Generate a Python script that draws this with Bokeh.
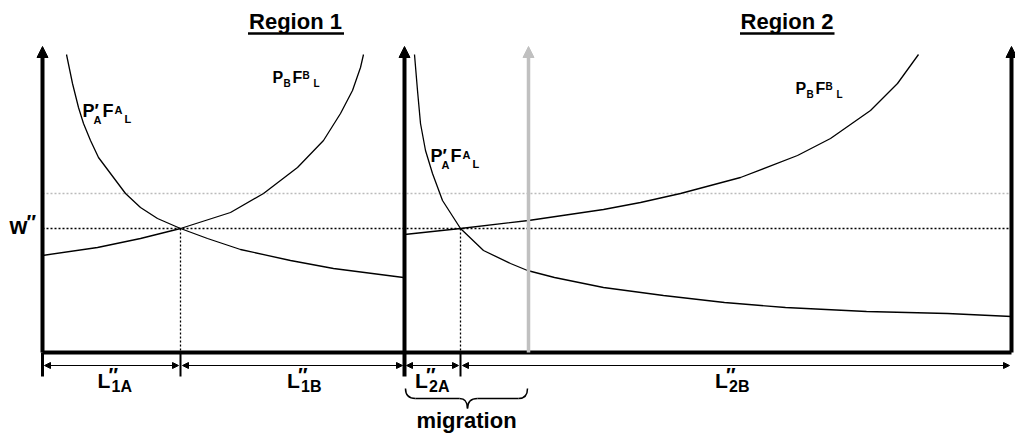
from bokeh.plotting import figure
from bokeh.models import Range1d, Arrow, NormalHead
from bokeh.core.properties import value
from bokeh.embed import file_html
from bokeh.resources import INLINE

# ---- data (labour on x, wage on y) ----
r1_end = 362          # total labour region 1
r2_end = 969          # right end of region 2 axis
w_eq = 124            # w''
w_old = 159           # old wage level (grey dotted)
L1A = 138             # equilibrium split, region 1
L2A = 418             # equilibrium split, region 2 (absolute x)
mig_x = 486           # grey arrow (pre-migration border)
axis_top = 306

r1_A_x = [24, 30, 36, 41, 48, 56, 68, 83, 98, 115, 138, 165, 198, 248, 291, 361]
r1_A_y = [298, 269, 245, 229, 212, 195, 179, 159, 145, 134, 124, 114, 103, 92, 84, 75]
r1_B_x = [0, 55, 98, 138, 188, 221, 255, 281, 298, 310, 318, 321]
r1_B_y = [97, 105, 114, 124, 140, 159, 185, 212, 239, 262, 285, 298]
r2_A_x = [372, 375, 378, 383, 390, 400, 418, 441, 468, 485, 512, 561, 621, 682, 743, 824, 905, 969]
r2_A_y = [298, 262, 229, 202, 179, 152, 124, 102, 89, 82, 75, 65, 57, 50, 45, 41, 39, 36]
r2_B_x = [362, 418, 486, 561, 598, 638, 698, 755, 788, 828, 855, 876]
r2_B_y = [118, 124, 132, 143, 150, 159, 175, 197, 214, 242, 269, 298]

titles = ["Region 1", "Region 2"]
span_labels = ["1A", "1B", "2A", "2B"]

FONT = value("Liberation Sans")

p = figure(width=1015, height=436, x_range=Range1d(-42, 973), y_range=Range1d(-84, 352),
           output_backend="svg", toolbar_location=None,
           x_axis_location=None, y_axis_location=None, min_border=0)
p.grid.visible = False
p.outline_line_color = None
p.background_fill_color = "white"
p.border_fill_color = "white"

# dotted wage lines
p.line([0, r2_end], [w_old, w_old], line_color="#bbbbbb", line_width=1.3, line_dash="2 2")
p.line([0, r2_end], [w_eq, w_eq], line_color="black", line_width=1.3, line_dash="2 2")
p.segment(x0=[L1A, L2A], y0=[w_eq, w_eq], x1=[L1A, L2A], y1=[0, 0],
          line_color="black", line_width=1.3, line_dash="2 2")

# grey migration arrow
p.add_layout(Arrow(end=NormalHead(size=11, fill_color="#c0c0c0", line_color="#c0c0c0"),
                   x_start=mig_x, y_start=0, x_end=mig_x, y_end=axis_top,
                   line_color="#c0c0c0", line_width=3.5))

# curves
for xs, ys in [(r1_A_x, r1_A_y), (r1_B_x, r1_B_y), (r2_A_x, r2_A_y), (r2_B_x, r2_B_y)]:
    p.line(xs, ys, line_color="black", line_width=1.3)

# axes
p.segment(x0=[0], y0=[0], x1=[r2_end], y1=[0], line_color="black", line_width=4)
for ax in [0, r1_end, r2_end]:
    p.add_layout(Arrow(end=NormalHead(size=11, fill_color="black", line_color="black"),
                       x_start=ax, y_start=0, x_end=ax, y_end=axis_top,
                       line_color="black", line_width=4))

# ticks below the axis
p.segment(x0=[0, L1A, r1_end, L2A], y0=[0, 0, 0, 0], x1=[0, L1A, r1_end, L2A], y1=[-24, -24, -24, -24],
          line_color="black", line_width=[3, 2, 4, 2])

# double-headed span arrows
spans = [(0, L1A), (L1A, r1_end), (r1_end, L2A), (L2A, r2_end)]
for a, b in spans:
    p.add_layout(Arrow(start=NormalHead(size=6, fill_color="black", line_color="black"),
                       end=NormalHead(size=6, fill_color="black", line_color="black"),
                       x_start=a + 2, y_start=-13, x_end=b - 2, y_end=-13,
                       line_color="black", line_width=1))

# migration brace
p.quadratic(x0=[363, 425, 476, 417], y0=[-36, -56, -46, -46], x1=[373, 435, 485, 425], y1=[-46, -46, -36, -56],
            cx=[363, 425, 485, 425], cy=[-46, -46, -46, -46], line_color="black", line_width=1.5)
p.segment(x0=[373, 435], y0=[-46, -46], x1=[417, 476], y1=[-46, -46], line_color="black", line_width=1.5)


def label(x, y, pieces, align="left"):
    # y is the text baseline; the renderer centres text on y, so shift by ~0.36 em
    for t, size, dx, dy in pieces:
        p.text(x=[x], y=[y], text=[t], x_offset=dx, y_offset=dy - 0.36 * size, text_font=FONT,
               text_font_style="bold", text_font_size=f"{size}px", text_color="black",
               text_align=align, text_baseline="middle")


PA = [("P\u2032", 18, 0, 0), ("A", 11, 11, 6), ("F", 18, 20, 0), ("A", 11, 32, -4), ("L", 11, 42, 5)]
PB = [("P", 16, 0, 0), ("B", 10, 11, 4), ("F", 16, 20, 0), ("B", 10, 30, -4), ("L", 10, 41, 4)]
label(40, 235, PA)
label(230, 269, PB)
label(388, 190, PA)
label(753, 258, PB)

label(-33, 118, [("w", 23, 0, 0), ("\u2033", 20, 17, -5)])
for lx, sub in zip([55, 244.5, 372.5, 672.5], span_labels):
    label(lx, -36, [("L", 21, 0, 0), ("\u2033", 20, 11, -6), (sub, 16, 14, 4)])

# titles
label(253, 323.5, [(titles[0], 22, 0, 0)], align="center")
label(744.5, 323.5, [(titles[1], 22, 0, 0)], align="center")
p.segment(x0=[205.5, 697.5], y0=[319, 319], x1=[301.5, 792], y1=[319, 319], line_color="black", line_width=2.5)

label(424, -76, [("migration", 22, 0, 0)], align="center")

open("out.html", "w").write(file_html(p, INLINE))
